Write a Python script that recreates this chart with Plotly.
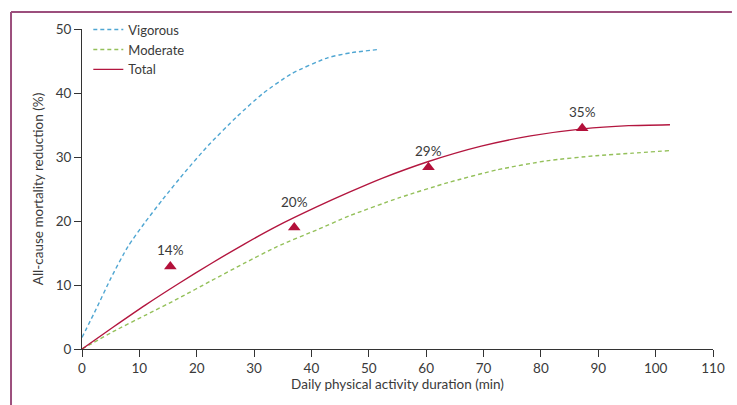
import plotly.graph_objects as go

# ---- data ----
vig_x = [0, 2.5, 5, 8, 11, 14, 18, 22, 27, 31.5, 36.5, 42.8, 47, 51.7]
vig_y = [1.8, 6.3, 11.0, 16.0, 19.8, 23.3, 27.7, 31.8, 36.3, 39.9, 43.0, 45.5, 46.3, 46.8]

mod_x = [0, 5.4, 11.1, 16.8, 22.6, 28.3, 34, 40.9, 46.6, 55.2, 63.8, 72.4, 81, 89.6, 96, 102.5]
mod_y = [0, 2.7, 5.3, 7.9, 10.7, 13.4, 16.0, 18.6, 20.8, 23.6, 26.0, 28.0, 29.4, 30.2, 30.6, 31.0]

tot_x = [0, 5.4, 11.1, 16.8, 22.6, 28.3, 34, 40.9, 46.6, 52.4, 60.4, 69.6, 78.2, 87.3, 95.3, 102.5]
tot_y = [0, 3.4, 6.9, 10.2, 13.4, 16.4, 19.2, 22.2, 24.5, 26.7, 29.3, 31.7, 33.3, 34.4, 34.9, 35.05]

pt_x = [15.4, 37.0, 60.4, 87.2]
pt_y = [12.9, 19.0, 28.4, 34.5]
pt_labels = ["14%", "20%", "29%", "35%"]
label_shift = [16, 25, 16, 16]

x_ticks = list(range(0, 111, 10))
y_ticks = list(range(0, 51, 10))

FONT = "Lato"
TXT = "#3a3a3a"
FS = 13.5

fig = go.Figure()
fig.add_trace(go.Scatter(x=vig_x, y=vig_y, mode="lines", name="Vigorous",
                         line=dict(color="#4fa6d2", width=1.4, dash="4px,3px",
                                   shape="spline", smoothing=0.6)))
fig.add_trace(go.Scatter(x=mod_x, y=mod_y, mode="lines", name="Moderate",
                         line=dict(color="#94c05a", width=1.4, dash="4px,3px",
                                   shape="spline", smoothing=0.6)))
fig.add_trace(go.Scatter(x=tot_x, y=tot_y, mode="lines", name="Total",
                         line=dict(color="#b3163f", width=1.4,
                                   shape="spline", smoothing=0.6)))
fig.add_trace(go.Scatter(x=pt_x, y=pt_y, mode="markers", showlegend=False,
                         marker=dict(symbol="triangle-up", size=11, color="#b3103a")))

for x, y, t, s in zip(pt_x, pt_y, pt_labels, label_shift):
    fig.add_annotation(x=x, y=y, text=t, showarrow=False, yshift=s,
                       font=dict(family=FONT, size=FS, color=TXT))

frame = "#9c4f7d"
fig.add_shape(type="line", xref="paper", yref="paper", x0=-0.1125, x1=1.03,
              y0=1.0535, y1=1.0535, line=dict(color=frame, width=2))
fig.add_shape(type="line", xref="paper", yref="paper", x0=-0.1125, x1=-0.1125,
              y0=1.0535, y1=-0.2, line=dict(color=frame, width=2))

fig.update_layout(
    width=737, height=405,
    margin=dict(l=82, r=15, t=29, b=56),
    plot_bgcolor="white", paper_bgcolor="white",
    font=dict(family=FONT, size=FS, color=TXT),
    showlegend=True,
    legend=dict(x=0.01, y=1.045, xanchor="left", yanchor="top",
                bgcolor="rgba(0,0,0,0)", itemwidth=30,
                font=dict(family=FONT, size=13, color=TXT),
                tracegroupgap=0),
    xaxis=dict(range=[0, 110], tickvals=x_ticks, showgrid=False, zeroline=False,
               showline=True, linecolor="#333", linewidth=1,
               ticks="outside", ticklen=7, tickcolor="#333",
               tickfont=dict(family=FONT, size=FS, color=TXT),
               title=dict(text="Daily physical activity duration (min)", standoff=4,
                          font=dict(family=FONT, size=FS, color=TXT))),
    yaxis=dict(range=[0, 50], tickvals=y_ticks, showgrid=False, zeroline=False,
               showline=True, linecolor="#333", linewidth=1,
               ticks="outside", ticklen=7, tickcolor="#333",
               tickfont=dict(family=FONT, size=FS, color=TXT),
               title=dict(text="All-cause mortality reduction (%)", standoff=8,
                          font=dict(family=FONT, size=FS, color=TXT))),
)

fig.write_html("out.html")
